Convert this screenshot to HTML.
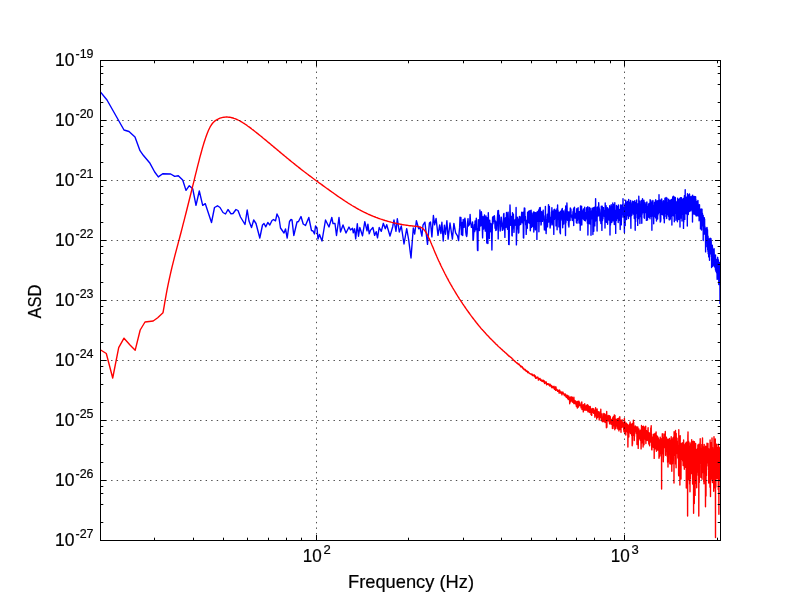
<!DOCTYPE html>
<html><head><meta charset="utf-8"><style>
html,body{margin:0;padding:0;background:#fff;width:800px;height:600px;overflow:hidden}
svg{display:block;will-change:transform}
text{font-family:"Liberation Sans",sans-serif;font-size:17.8px;fill:#000;stroke:#000;stroke-width:0.2px}
.s{font-size:13.1px}
</style></head><body>
<svg width="800" height="600" viewBox="0 0 800 600">
<rect width="800" height="600" fill="#fff"/>
<g clip-path="url(#c)"><path d="M100.0 91.5L107.0 100.0L124.0 130.0L129.0 131.5L135.0 137.0L140.0 150.7L143.3 155.3L150.0 163.3L154.7 172.0L158.3 176.9L162.7 173.7L170.7 174.0L174.7 176.4L178.3 175.7L182.7 180.0L186.0 190.4L189.3 185.7L192.7 188.7L196.0 205.3L199.3 191.0L202.7 205.3L205.3 203.7L211.5 222.5L214.5 207.5L217.5 205.8L220.0 207.5L223.0 212.5L225.5 214.0L228.0 209.5L231.0 213.8L233.0 213.5L236.0 209.5L238.0 210.5L240.5 217.0L245.0 224.5L247.2 210.0L249.0 221.0L251.5 227.5L253.7 220.0L256.0 223.5L259.8 238.0L262.5 225.0L264.0 223.5L265.8 226.8L267.8 222.5L269.8 225.0L272.0 220.5L273.5 219.5L275.5 220.8L277.0 214.0L279.0 218.0L280.5 228.0L284.0 233.0L285.5 229.0L287.2 238.0L289.5 221.5L291.0 219.5L292.0 219.8L293.8 235.5L297.0 222.0L298.5 221.5L301.0 216.5L303.2 224.0L305.5 225.5L308.8 217.5L311.5 230.5L313.0 231.0L314.5 234.0L315.5 226.0L317.0 228.0L318.0 239.0L319.5 234.5L322.0 241.0L325.5 220.0L329.0 227.0L331.8 217.5L333.0 223.5L335.0 223.5L336.5 235.5L339.0 217.5L340.5 232.0L343.0 225.0L346.0 233.0L349.0 227.0L350.5 230.0L352.5 228.3L353.3 232.9L354.6 228.8L355.7 238.8L357.3 223.8L358.5 236.2L359.8 227.5L362.5 235.8L364.8 221.7L367.0 230.8L367.9 224.2L369.2 233.8L370.4 230.4L372.9 227.5L374.6 235.4L376.2 231.7L377.5 237.9L379.2 227.5L381.3 231.3L383.3 223.3L385.3 228.7L386.7 224.7L390.0 236.0L392.7 226.7L394.0 220.0L396.0 231.3L397.3 218.7L399.3 232.0L401.3 226.0L404.0 244.0L406.7 228.7L408.7 240.0L411.0 258.0L413.3 228.0L414.7 234.0L416.4 220.7L418.7 228.7L420.0 227.5L421.9 236.1L423.0 225.2L424.9 222.2L427.5 244.4L429.4 223.0L430.5 221.9L431.9 236.9L433.4 215.5L434.6 224.9L436.1 218.5L438.0 235.4L439.7 224.9L440.9 233.5L441.9 222.2L443.2 241.0L444.4 225.2L445.5 234.2L446.9 220.8L448.1 239.1L450.0 223.0L452.4 239.1L453.9 223.4L455.6 232.8L457.5 235.8L458.6 240.6L459.1 232.9L459.6 227.9L460.0 217.3L460.5 225.1L460.9 217.5L461.4 234.7L461.8 229.8L462.3 222.4L462.7 235.6L463.2 219.5L463.6 221.5L464.1 227.4L464.5 220.5L464.9 218.1L465.4 221.8L465.8 232.1L466.2 235.2L466.7 236.5L467.1 233.7L467.5 223.9L468.0 218.6L468.4 226.0L468.8 224.7L469.3 225.0L469.7 222.8L470.1 214.5L470.5 221.7L470.9 223.4L471.4 227.4L471.8 225.5L472.2 227.6L472.6 221.9L473.0 240.0L473.4 239.3L473.9 230.6L474.3 224.8L474.7 231.6L475.1 221.0L475.5 229.9L475.9 226.1L476.3 218.2L476.7 228.2L477.1 231.4L477.5 250.3L477.9 250.6L478.3 219.6L478.7 222.7L479.1 226.7L479.5 230.5L479.9 210.0L480.3 225.3L480.7 226.0L481.1 225.1L481.4 211.8L481.8 215.8L482.2 224.8L482.6 237.9L483.0 216.6L483.4 223.6L483.7 229.1L484.1 217.7L484.5 215.0L484.9 223.8L485.3 231.1L485.6 226.5L486.0 216.0L486.4 225.4L486.8 243.0L487.1 217.6L487.5 228.6L487.9 243.5L488.3 212.7L488.6 222.7L489.0 222.4L489.4 238.6L489.7 220.2L490.1 232.0L490.4 223.3L490.8 231.4L491.2 229.4L491.5 223.9L491.9 250.0L492.3 227.6L492.6 217.2L493.0 223.8L493.3 216.5L493.7 216.8L494.0 221.6L494.4 215.8L494.7 219.6L495.1 228.3L495.4 220.9L495.8 230.5L496.1 224.0L496.5 229.9L496.8 221.7L497.2 221.7L497.5 216.3L497.9 210.6L498.2 238.9L498.5 210.4L498.9 223.5L499.2 214.9L499.6 217.7L499.9 226.9L500.2 231.0L500.6 225.3L500.9 226.1L501.3 217.2L501.6 220.6L501.9 222.8L502.3 230.3L502.6 229.0L502.9 227.8L503.2 228.1L503.6 214.4L503.9 213.5L504.2 229.9L504.6 224.8L504.9 237.4L505.2 218.7L505.5 217.8L505.9 227.4L506.2 221.2L506.5 212.4L506.8 219.1L507.1 224.1L507.5 229.2L507.8 216.1L508.1 212.1L508.4 221.9L508.7 244.4L509.1 244.5L509.4 224.1L509.7 220.8L510.0 205.0L510.3 215.2L510.6 225.3L510.9 222.5L511.3 218.0L511.6 216.4L511.9 235.4L512.2 235.9L512.5 212.8L512.8 217.0L513.1 228.1L513.4 214.3L513.7 225.5L514.0 232.4L514.3 224.7L514.6 225.3L514.9 220.4L515.2 219.4L515.5 220.0L515.8 225.5L516.1 207.5L516.4 244.9L516.7 232.7L517.0 225.5L517.3 217.2L517.6 218.9L517.9 228.9L518.2 219.3L518.5 233.0L518.8 232.6L519.1 220.7L519.4 216.5L519.7 225.0L520.0 220.7L520.3 217.0L520.6 217.5L520.8 224.2L521.1 218.7L521.4 217.6L521.7 212.3L522.0 214.3L522.3 222.8L522.6 215.2L522.9 213.1L523.1 212.2L523.4 237.7L523.7 238.0L524.0 217.8L524.3 208.0L524.6 219.3L524.8 208.3L525.1 220.6L525.4 216.5L525.7 225.0L526.0 223.5L526.2 234.4L526.5 227.0L526.8 220.1L527.1 223.8L527.3 228.2L527.6 212.2L527.9 216.1L528.2 222.7L528.4 217.3L528.7 211.1L529.0 221.7L529.3 212.0L529.5 223.2L529.8 210.6L530.1 218.0L530.3 230.8L530.6 227.2L530.9 215.1L531.1 210.1L531.4 217.8L531.7 227.2L531.9 213.3L532.2 219.9L532.5 226.2L532.7 217.3L533.0 222.1L533.3 216.9L533.5 212.0L533.8 232.0L534.1 221.5L534.3 212.1L534.6 219.3L534.8 212.4L535.1 218.3L535.4 229.9L535.6 214.5L535.9 212.8L536.1 227.0L536.4 218.7L536.7 213.4L536.9 239.4L537.2 211.7L537.4 218.9L537.7 213.2L537.9 221.4L538.2 217.0L538.4 211.5L538.7 210.0L538.9 231.8L539.2 218.0L539.5 208.0L539.7 220.7L540.0 221.4L540.2 207.4L540.5 211.5L540.7 214.9L541.0 225.1L541.2 224.4L541.4 217.4L541.7 211.6L541.9 219.0L542.2 219.5L542.4 221.4L542.7 212.5L542.9 216.2L543.2 210.1L543.4 218.3L543.7 215.7L543.9 220.7L544.2 225.8L544.4 229.9L544.6 220.3L544.9 222.0L545.1 230.0L545.4 206.5L545.6 223.9L545.8 220.5L546.1 233.6L546.3 228.9L546.6 221.7L546.8 219.3L547.0 218.4L547.3 214.3L547.5 226.9L547.7 219.7L548.0 216.3L548.2 217.8L548.5 204.6L548.7 222.1L548.9 208.4L549.2 220.0L549.4 206.5L549.6 214.7L549.9 220.5L550.1 228.0L550.3 226.0L550.6 224.9L550.8 221.9L551.0 217.2L551.3 219.2L551.5 211.9L551.7 212.7L551.9 207.8L552.2 224.9L552.4 210.9L552.6 214.5L552.9 215.5L553.1 213.3L553.3 223.3L553.5 210.9L553.8 234.4L554.0 209.6L554.2 217.9L554.4 219.6L554.7 209.3L554.9 218.5L555.1 210.4L555.3 212.1L555.6 217.0L555.8 210.4L556.0 225.9L556.2 223.8L556.5 217.3L556.7 217.0L556.9 208.8L557.1 229.8L557.3 217.8L557.6 205.0L557.8 217.9L558.0 210.1L558.2 216.1L558.4 219.4L558.7 215.0L558.9 226.9L559.1 214.5L559.3 212.3L559.5 219.1L559.7 218.5L560.0 232.4L560.2 220.4L560.4 233.7L560.6 211.3L560.8 220.0L561.0 220.1L561.2 217.1L561.5 217.7L561.7 210.6L561.9 209.2L562.1 212.9L562.3 208.4L562.5 220.6L562.7 227.8L562.9 217.0L563.2 220.2L563.4 218.0L563.6 210.9L563.8 224.0L564.0 214.2L564.2 212.9L564.4 219.1L564.6 217.7L564.8 213.6L565.0 218.8L565.2 209.6L565.5 235.5L565.7 205.9L565.9 223.0L566.1 220.3L566.3 212.2L566.5 215.7L566.7 218.4L566.9 203.0L567.1 207.9L567.3 218.1L567.5 220.3L567.7 218.5L567.9 220.4L568.1 211.8L568.3 212.5L568.5 225.2L568.7 215.2L568.9 227.0L569.1 221.9L569.3 212.1L569.5 220.5L569.7 214.1L569.9 211.2L570.1 220.5L570.3 208.0L570.5 212.3L570.7 211.9L570.9 208.9L571.1 213.9L571.3 215.9L571.5 217.1L571.7 215.5L571.9 217.3L572.1 218.6L572.3 220.5L572.5 215.2L572.7 216.8L572.9 212.5L573.1 211.2L573.3 217.7L573.5 208.9L573.7 225.6L573.9 207.9L574.1 216.6L574.3 215.7L574.5 207.2L574.7 216.6L574.9 215.3L575.1 218.1L575.2 214.5L575.4 213.5L575.6 214.1L575.8 218.2L576.0 214.4L576.2 215.3L576.4 222.6L576.6 211.7L576.8 208.6L577.0 223.2L577.2 213.5L577.4 220.4L577.5 219.9L577.7 209.4L577.9 217.9L578.1 207.8L578.3 218.5L578.5 217.9L578.7 213.6L578.9 214.5L579.0 223.1L579.2 211.8L579.4 216.9L579.6 216.1L579.8 211.9L580.0 211.6L580.2 230.3L580.4 214.0L580.5 206.0L580.7 225.2L580.9 213.1L581.1 215.1L581.3 221.3L581.5 221.1L581.6 206.3L581.8 224.9L582.0 210.0L582.2 214.5L582.4 212.7L582.6 212.2L582.7 213.6L582.9 212.3L583.1 216.4L583.3 218.9L583.5 208.9L583.7 216.0L583.8 219.4L584.0 216.5L584.2 213.7L584.4 220.4L584.6 208.0L584.7 207.3L584.9 209.0L585.1 218.0L585.3 214.6L585.4 220.9L585.6 219.5L585.8 212.8L586.0 217.0L586.2 214.9L586.3 215.8L586.5 218.7L586.7 207.8L586.9 213.0L587.0 211.2L587.2 209.8L587.4 223.3L587.6 216.7L587.8 206.8L587.9 235.0L588.1 221.0L588.3 224.0L588.5 218.5L588.6 223.7L588.8 211.8L589.0 214.9L589.1 220.1L589.3 207.4L589.5 219.9L589.7 213.7L589.8 218.3L590.0 224.0L590.2 208.3L590.4 217.5L590.5 211.4L590.7 212.2L590.9 214.7L591.0 235.3L591.2 211.8L591.4 214.2L591.6 218.5L591.7 210.8L591.9 210.6L592.1 208.1L592.2 213.4L592.4 219.0L592.6 216.5L592.7 208.5L592.9 234.5L593.1 216.4L593.3 208.3L593.4 211.8L593.6 207.8L593.8 231.2L593.9 210.5L594.1 207.5L594.3 217.9L594.4 222.2L594.6 207.3L594.8 225.9L594.9 218.0L595.1 218.5L595.3 221.3L595.4 216.2L595.6 198.8L595.8 212.2L595.9 217.6L596.1 212.0L596.3 220.5L596.4 218.3L596.6 215.0L596.7 213.9L596.9 219.4L597.1 231.1L597.2 207.2L597.4 213.6L597.6 210.1L597.7 207.0L597.9 210.3L598.1 209.2L598.2 216.0L598.4 215.3L598.5 209.8L598.7 202.8L598.9 208.1L599.0 215.6L599.2 207.8L599.3 213.6L599.5 209.3L599.7 212.1L599.8 215.2L600.0 220.7L600.1 213.9L600.3 219.4L600.5 220.5L600.6 215.4L600.8 214.8L600.9 223.6L601.1 214.3L601.3 206.3L601.4 207.3L601.6 215.5L601.7 213.4L601.9 230.4L602.1 209.3L602.2 206.1L602.4 210.9L602.5 220.5L602.7 212.0L602.8 207.5L603.0 218.7L603.2 208.2L603.3 209.9L603.5 207.6L603.6 211.3L603.8 213.6L603.9 216.0L604.1 215.2L604.2 210.5L604.4 214.7L604.6 216.8L604.7 211.6L604.9 218.3L605.0 228.0L605.2 203.0L605.3 213.3L605.5 217.6L605.6 211.4L605.8 214.1L605.9 213.3L606.1 205.8L606.2 210.8L606.4 222.2L606.6 215.8L606.7 219.6L606.9 211.9L607.0 208.7L607.2 214.0L607.3 218.7L607.5 207.6L607.6 224.2L607.8 218.2L607.9 211.3L608.1 214.9L608.2 220.1L608.4 210.5L608.5 210.0L608.7 217.2L608.8 209.0L609.0 214.8L609.1 210.0L609.3 216.3L609.4 220.3L609.6 208.8L609.7 205.7L609.9 218.6L610.0 235.0L610.2 212.7L610.3 206.9L610.5 225.0L610.6 209.8L610.8 218.8L610.9 213.4L611.1 216.7L611.2 204.8L611.4 219.3L611.5 211.8L611.6 206.3L611.8 222.5L611.9 213.5L612.1 208.9L612.2 209.3L612.4 214.7L612.5 212.6L612.7 214.4L612.8 202.9L613.0 220.9L613.1 217.0L613.3 214.3L613.4 209.3L613.5 217.8L613.7 204.7L613.8 212.7L614.0 205.9L614.1 215.3L614.3 224.6L614.4 214.4L614.5 217.7L614.7 212.2L614.8 202.7L615.0 223.6L615.1 211.7L615.3 218.0L615.4 210.3L615.6 217.0L615.7 233.4L615.8 211.0L616.0 214.5L616.1 215.1L616.3 212.2L616.4 220.6L616.5 205.4L616.7 218.8L616.8 206.6L617.0 217.9L617.1 212.0L617.3 206.6L617.4 206.8L617.5 216.8L617.7 211.7L617.8 218.8L618.0 212.7L618.1 214.5L618.2 222.6L618.4 205.0L618.5 218.8L618.7 213.9L618.8 210.1L618.9 210.1L619.1 209.5L619.2 220.4L619.3 211.8L619.5 210.2L619.6 209.7L619.8 217.3L619.9 211.1L620.0 218.0L620.2 229.6L620.3 218.4L620.5 205.0L620.6 214.1L620.7 210.1L620.9 223.7L621.0 217.5L621.1 208.0L621.3 224.9L621.4 219.5L621.5 205.2L621.7 217.5L621.8 217.5L622.0 205.0L622.1 215.1L622.2 211.7L622.4 211.4L622.5 212.5L622.6 210.4L622.8 206.7L622.9 214.1L623.0 198.8L623.2 214.5L623.3 209.1L623.4 217.0L623.6 210.7L623.7 214.5L623.8 207.4L624.0 209.7L624.1 213.3L624.2 221.3L624.4 232.6L624.5 207.4L624.7 221.8L624.8 223.9L624.9 204.0L625.0 205.0L625.2 225.6L625.3 204.3L625.4 205.3L625.6 211.7L625.7 200.2L625.8 202.7L626.0 203.5L626.1 213.8L626.2 214.2L626.4 211.6L626.5 202.8L626.6 219.5L626.8 210.6L626.9 211.3L627.0 206.2L627.2 209.8L627.3 201.6L627.4 215.5L627.6 209.1L627.7 211.9L627.8 211.7L627.9 208.3L628.1 202.1L628.2 201.0L628.3 212.5L628.5 218.6L628.6 202.7L628.7 199.4L628.8 207.4L629.0 209.2L629.1 209.1L629.2 216.0L629.4 208.2L629.5 207.4L629.6 209.8L629.7 207.9L629.9 210.8L630.0 202.2L630.1 209.5L630.3 213.0L630.4 216.4L630.5 200.5L630.6 200.6L630.8 222.0L630.9 228.2L631.0 202.6L631.2 207.1L631.3 209.9L631.4 215.6L631.5 210.1L631.7 215.6L631.8 207.2L631.9 204.1L632.0 204.9L632.2 205.9L632.3 210.5L632.4 212.3L632.5 201.3L632.7 211.8L632.8 206.5L632.9 205.6L633.0 208.8L633.2 214.1L633.3 208.8L633.4 201.6L633.5 206.8L633.7 202.5L633.8 202.5L633.9 201.6L634.0 206.2L634.2 207.4L634.3 218.5L634.4 213.3L634.5 201.0L634.7 212.2L634.8 207.5L634.9 200.8L635.0 203.8L635.2 230.2L635.3 210.0L635.4 206.4L635.5 202.5L635.6 221.5L635.8 207.0L635.9 213.6L636.0 217.8L636.1 207.0L636.3 209.2L636.4 211.3L636.5 208.8L636.6 213.5L636.7 200.0L636.9 209.8L637.0 203.4L637.1 210.8L637.2 205.3L637.4 210.6L637.5 212.5L637.6 203.9L637.7 225.4L637.8 214.1L638.0 208.2L638.1 203.8L638.2 209.8L638.3 204.6L638.4 218.7L638.6 209.0L638.7 215.0L638.8 196.2L638.9 201.7L639.0 206.4L639.2 206.3L639.3 203.2L639.4 205.9L639.5 208.3L639.6 201.3L639.8 213.4L639.9 223.5L640.0 213.4L640.1 207.4L640.2 214.9L640.4 208.1L640.5 209.8L640.6 210.0L640.7 206.9L640.8 216.6L640.9 214.2L641.1 201.3L641.2 207.2L641.3 200.4L641.4 206.0L641.5 207.7L641.6 210.4L641.8 223.2L641.9 204.7L642.0 214.5L642.1 214.0L642.2 213.2L642.4 212.5L642.5 198.8L642.6 206.2L642.7 201.2L642.8 202.2L642.9 203.7L643.1 203.4L643.2 203.5L643.3 206.6L643.4 201.2L643.5 204.8L643.6 209.4L643.7 213.1L643.9 200.1L644.0 206.4L644.1 217.5L644.2 210.5L644.3 210.8L644.4 218.3L644.6 211.7L644.7 202.4L644.8 206.2L644.9 209.6L645.0 211.8L645.1 209.6L645.2 206.8L645.4 212.6L645.5 208.6L645.6 211.5L645.7 212.6L645.8 206.0L645.9 206.1L646.0 204.2L646.2 208.3L646.3 202.6L646.4 220.4L646.5 207.0L646.6 214.3L646.7 206.2L646.8 216.1L646.9 202.0L647.1 208.7L647.2 206.7L647.3 218.5L647.4 209.0L647.5 220.1L647.6 206.5L647.7 212.7L647.8 207.0L648.0 210.2L648.1 212.1L648.2 211.9L648.3 217.0L648.4 208.0L648.5 207.3L648.6 204.0L648.7 205.8L648.8 213.0L649.0 217.2L649.1 215.2L649.2 214.1L649.3 210.6L649.4 203.1L649.5 203.3L649.6 211.2L649.7 209.5L649.8 205.7L650.0 218.7L650.1 199.7L650.2 212.0L650.3 213.3L650.4 200.1L650.5 209.9L650.6 216.6L650.7 209.9L650.8 206.5L650.9 200.6L651.1 209.2L651.2 205.4L651.3 214.1L651.4 203.8L651.5 203.4L651.6 204.5L651.7 209.1L651.8 209.3L651.9 230.2L652.0 205.7L652.1 205.9L652.3 202.2L652.4 212.6L652.5 201.3L652.6 216.0L652.7 205.5L652.8 205.4L652.9 200.5L653.0 201.5L653.1 204.9L653.2 214.4L653.3 207.5L653.4 207.4L653.5 205.5L653.7 223.8L653.8 208.5L653.9 207.7L654.0 210.4L654.1 206.2L654.2 213.2L654.3 207.0L654.4 209.6L654.5 212.7L654.6 202.5L654.7 205.4L654.8 205.1L654.9 216.2L655.0 214.2L655.2 211.8L655.3 211.8L655.4 200.6L655.5 217.9L655.6 202.2L655.7 199.8L655.8 210.2L655.9 202.5L656.0 207.5L656.1 210.0L656.2 213.9L656.3 211.9L656.4 209.4L656.5 221.1L656.6 201.7L656.7 211.8L656.8 211.1L656.9 206.4L657.0 202.0L657.2 200.7L657.3 214.7L657.4 208.7L657.5 207.5L657.6 219.0L657.7 204.7L657.8 203.3L657.9 215.2L658.0 207.6L658.1 212.4L658.2 200.9L658.3 205.1L658.4 213.8L658.5 205.4L658.6 208.9L658.7 212.7L658.8 206.6L658.9 204.0L659.0 194.8L659.1 209.5L659.2 206.8L659.3 210.5L659.4 205.7L659.5 204.8L659.6 206.1L659.7 200.0L659.8 212.0L659.9 201.9L660.0 209.1L660.2 219.4L660.3 222.1L660.4 217.2L660.5 202.5L660.6 200.8L660.7 221.2L660.8 219.2L660.9 205.5L661.0 203.0L661.1 213.2L661.2 208.2L661.3 199.3L661.4 209.7L661.5 204.3L661.6 213.5L661.7 198.9L661.8 206.5L661.9 214.3L662.0 207.9L662.1 211.3L662.2 209.2L662.3 209.7L662.4 208.7L662.5 209.1L662.6 214.7L662.7 207.7L662.8 205.1L662.9 207.9L663.0 203.1L663.1 208.5L663.2 201.1L663.3 209.9L663.4 207.3L663.5 200.8L663.6 208.0L663.7 213.6L663.8 218.8L663.9 211.7L664.0 207.9L664.1 205.3L664.2 213.6L664.3 222.7L664.4 218.4L664.5 203.3L664.6 218.9L664.7 209.1L664.8 204.4L664.9 198.9L665.0 198.1L665.1 213.4L665.2 205.7L665.3 211.4L665.4 206.0L665.5 204.9L665.6 211.7L665.7 206.6L665.8 210.4L665.9 201.2L666.0 209.0L666.1 198.1L666.1 197.4L666.2 216.6L666.3 207.6L666.4 204.4L666.5 201.7L666.6 204.4L666.7 218.6L666.8 210.2L666.9 204.6L667.0 203.9L667.1 198.3L667.2 205.0L667.3 207.1L667.4 204.6L667.5 209.1L667.6 204.4L667.7 214.5L667.8 206.8L667.9 207.0L668.0 205.5L668.1 212.3L668.2 202.8L668.3 205.9L668.4 209.0L668.5 216.2L668.6 206.5L668.7 199.3L668.8 215.3L668.9 212.2L669.0 215.8L669.0 204.8L669.1 219.7L669.2 208.2L669.3 206.5L669.4 204.4L669.5 207.7L669.6 208.9L669.7 202.8L669.8 219.8L669.9 210.4L670.0 200.4L670.1 205.0L670.2 201.6L670.3 219.0L670.4 211.5L670.5 207.5L670.6 215.0L670.7 200.1L670.8 210.7L670.9 210.5L670.9 204.3L671.0 205.7L671.1 210.5L671.2 213.6L671.3 208.7L671.4 199.5L671.5 216.2L671.6 207.8L671.7 202.0L671.8 211.0L671.9 225.1L672.0 202.0L672.1 201.6L672.2 203.1L672.3 207.0L672.4 200.7L672.5 206.7L672.5 198.9L672.6 201.8L672.7 197.0L672.8 210.2L672.9 201.4L673.0 202.8L673.1 199.3L673.2 200.2L673.3 215.8L673.4 196.3L673.5 208.8L673.6 203.0L673.7 206.0L673.7 214.7L673.8 198.3L673.9 207.1L674.0 196.6L674.1 202.9L674.2 204.4L674.3 221.7L674.4 207.4L674.5 205.8L674.6 204.7L674.7 203.8L674.8 199.0L674.9 208.5L674.9 208.3L675.0 198.8L675.1 208.7L675.2 203.4L675.3 197.4L675.4 202.5L675.5 209.1L675.6 213.8L675.7 208.3L675.8 202.6L675.9 208.5L675.9 220.2L676.0 203.4L676.1 219.1L676.2 202.3L676.3 208.1L676.4 214.2L676.5 204.2L676.6 215.6L676.7 205.3L676.8 208.7L676.9 204.4L676.9 211.4L677.0 206.3L677.1 201.1L677.2 206.7L677.3 201.3L677.4 221.7L677.5 212.9L677.6 198.1L677.7 211.1L677.8 206.1L677.8 205.0L677.9 206.4L678.0 219.7L678.1 204.6L678.2 199.1L678.3 200.1L678.4 208.1L678.5 203.6L678.6 200.7L678.6 207.1L678.7 204.3L678.8 204.5L678.9 208.2L679.0 216.5L679.1 219.4L679.2 213.7L679.3 204.4L679.4 206.9L679.4 205.5L679.5 200.6L679.6 198.6L679.7 200.7L679.8 205.0L679.9 206.7L680.0 227.0L680.1 206.8L680.2 202.1L680.2 198.0L680.3 213.0L680.4 198.0L680.5 205.1L680.6 213.2L680.7 211.2L680.8 197.7L680.9 207.4L680.9 202.9L681.0 204.6L681.1 217.9L681.2 218.0L681.3 206.9L681.4 197.6L681.5 209.0L681.6 212.7L681.6 211.1L681.7 207.3L681.8 208.1L681.9 199.4L682.0 221.0L682.1 200.9L682.2 214.3L682.2 212.4L682.3 214.0L682.4 200.0L682.5 207.0L682.6 213.5L682.7 208.1L682.8 199.5L682.9 210.9L682.9 210.2L683.0 208.6L683.1 199.0L683.2 198.4L683.3 211.7L683.4 207.3L683.5 201.7L683.5 228.4L683.6 205.8L683.7 205.8L683.8 221.9L683.9 206.8L684.0 199.2L684.1 200.7L684.1 198.5L684.2 209.4L684.3 210.2L684.4 195.7L684.5 207.0L684.6 207.1L684.7 208.6L684.7 200.2L684.8 219.4L684.9 200.9L685.0 206.4L685.1 202.6L685.2 189.6L685.3 212.0L685.3 197.7L685.4 202.8L685.5 204.1L685.6 202.4L685.7 207.0L685.8 211.5L685.8 201.5L685.9 210.0L686.0 208.5L686.1 213.8L686.2 199.4L686.3 208.5L686.3 204.8L686.4 198.4L686.5 206.5L686.6 197.1L686.7 208.3L686.8 208.1L686.9 206.5L686.9 204.7L687.0 196.7L687.1 208.4L687.2 202.3L687.3 226.0L687.4 213.4L687.4 202.9L687.5 193.7L687.6 200.4L687.7 210.9L687.8 205.5L687.9 200.8L687.9 196.3L688.0 197.5L688.1 198.8L688.2 206.2L688.3 214.6L688.4 195.0L688.4 199.1L688.5 209.5L688.6 200.2L688.7 205.1L688.8 206.9L688.8 203.7L688.9 207.3L689.0 208.7L689.1 197.0L689.2 203.6L689.3 211.6L689.3 208.1L689.4 207.9L689.5 194.0L689.6 195.0L689.7 200.1L689.8 202.1L689.8 197.5L689.9 207.1L690.0 204.0L690.1 201.0L690.2 208.6L690.2 198.7L690.3 210.3L690.4 203.6L690.5 200.2L690.6 201.1L690.7 197.5L690.7 199.2L690.8 211.0L690.9 196.7L691.0 203.7L691.1 201.5L691.1 199.8L691.2 206.0L691.3 205.7L691.4 209.7L691.5 208.0L691.5 205.4L691.6 200.0L691.7 203.9L691.8 204.3L691.9 206.4L691.9 199.9L692.0 202.3L692.1 195.9L692.2 207.7L692.3 201.8L692.3 203.8L692.4 202.5L692.5 222.0L692.6 201.8L692.7 195.1L692.8 202.4L692.8 198.5L692.9 207.6L693.0 198.2L693.1 214.0L693.2 213.5L693.2 204.7L693.3 203.2L693.4 200.5L693.5 208.7L693.5 196.8L693.6 200.0L693.7 209.1L693.8 204.0L693.9 197.9L693.9 206.3L694.0 208.7L694.1 197.9L694.2 202.0L694.3 207.0L694.3 214.0L694.4 202.4L694.5 202.8L694.6 206.6L694.7 200.7L694.7 196.5L694.8 203.8L694.9 213.6L695.0 203.6L695.1 212.7L695.1 206.2L695.2 206.8L695.3 204.5L695.4 209.3L695.4 214.8L695.5 208.1L695.6 196.8L695.7 205.5L695.8 209.7L695.8 205.7L695.9 199.6L696.0 212.9L696.1 201.3L696.2 216.1L696.2 216.0L696.3 211.8L696.4 202.7L696.5 203.1L696.5 208.4L696.6 205.3L696.7 210.1L696.8 208.3L696.9 201.8L696.9 209.8L697.0 203.2L697.1 208.5L697.2 205.0L697.2 215.1L697.3 210.2L697.4 215.8L697.5 211.2L697.6 213.5L697.6 212.6L697.7 205.8L697.8 208.0L697.9 206.4L697.9 200.4L698.0 203.0L698.1 209.2L698.2 211.1L698.2 204.3L698.3 210.4L698.4 210.8L698.5 206.9L698.6 207.5L698.6 212.5L698.7 212.8L698.8 216.6L698.9 208.1L698.9 208.9L699.0 209.3L699.1 220.7L699.2 208.7L699.2 213.7L699.3 213.1L699.4 210.2L699.5 215.1L699.5 204.8L699.6 217.1L699.7 212.4L699.8 219.1L699.9 211.1L699.9 212.3L700.0 213.9L700.1 212.3L700.2 209.5L700.2 215.6L700.3 210.4L700.4 217.1L700.5 216.1L700.5 228.9L700.6 215.2L700.7 217.7L700.8 215.4L700.8 209.5L700.9 211.0L701.0 221.3L701.1 209.0L701.1 226.1L701.2 222.1L701.3 225.4L701.4 220.6L701.4 220.7L701.5 215.7L701.6 230.1L701.7 209.9L701.7 209.7L701.8 212.1L701.9 210.8L702.0 209.3L702.0 215.3L702.1 222.2L702.2 222.1L702.3 225.8L702.3 225.0L702.4 213.1L702.5 215.5L702.6 216.4L702.6 219.2L702.7 218.0L702.8 223.7L702.9 225.6L702.9 218.8L703.0 216.0L703.1 223.0L703.2 215.5L703.2 240.6L703.3 220.8L703.4 226.8L703.5 230.1L703.5 228.9L703.6 232.8L703.7 219.7L703.7 221.2L703.8 229.3L703.9 219.7L704.0 223.0L704.0 221.1L704.1 219.8L704.2 227.7L704.3 234.1L704.3 217.7L704.4 225.5L704.5 228.2L704.6 222.0L704.6 219.1L704.7 230.0L704.8 226.5L704.9 226.5L704.9 231.2L705.0 232.9L705.1 227.6L705.1 229.1L705.2 231.8L705.3 234.1L705.4 230.3L705.4 228.3L705.5 237.0L705.6 251.9L705.7 235.9L705.7 231.9L705.8 235.7L705.9 235.7L705.9 232.2L706.0 233.1L706.1 238.4L706.2 228.2L706.2 246.8L706.3 237.8L706.4 238.9L706.5 228.9L706.5 230.5L706.6 227.9L706.7 237.1L706.7 238.7L706.8 236.9L706.9 234.4L707.0 227.5L707.0 228.2L707.1 227.7L707.2 233.7L707.2 240.1L707.3 232.2L707.4 234.1L707.5 240.4L707.5 229.8L707.6 236.7L707.7 250.0L707.7 235.0L707.8 237.7L707.9 250.3L708.0 236.6L708.0 251.7L708.1 236.4L708.2 253.7L708.3 239.8L708.3 238.5L708.4 244.3L708.5 241.6L708.5 250.8L708.6 245.8L708.7 239.6L708.7 256.9L708.8 239.3L708.9 242.3L709.0 240.5L709.0 247.2L709.1 245.6L709.2 240.2L709.2 248.5L709.3 244.2L709.4 250.0L709.5 247.9L709.5 260.3L709.6 238.7L709.7 252.2L709.7 242.2L709.8 239.8L709.9 249.2L710.0 243.3L710.0 251.3L710.1 253.9L710.2 238.1L710.2 243.0L710.3 241.9L710.4 243.9L710.4 252.8L710.5 249.1L710.6 244.9L710.7 240.4L710.7 253.7L710.8 251.9L710.9 240.4L710.9 242.0L711.0 238.6L711.1 247.9L711.1 251.8L711.2 241.0L711.3 252.0L711.4 256.8L711.4 250.3L711.5 254.0L711.6 251.8L711.6 267.6L711.7 258.8L711.8 254.4L711.8 251.8L711.9 260.7L712.0 247.4L712.1 251.7L712.1 248.7L712.2 249.8L712.3 256.7L712.3 245.3L712.4 251.2L712.5 246.9L712.5 260.8L712.6 266.1L712.7 255.3L712.7 258.0L712.8 266.4L712.9 259.8L713.0 254.5L713.0 263.7L713.1 256.3L713.2 251.4L713.2 261.1L713.3 261.6L713.4 257.1L713.4 257.7L713.5 253.0L713.6 263.8L713.6 249.2L713.7 249.8L713.8 265.1L713.8 260.0L713.9 260.1L714.0 253.1L714.0 254.7L714.1 248.7L714.2 253.3L714.3 257.7L714.3 265.6L714.4 255.5L714.5 263.5L714.5 264.7L714.6 262.6L714.7 266.9L714.7 261.5L714.8 264.6L714.9 266.6L714.9 255.4L715.0 267.2L715.1 264.7L715.1 258.0L715.2 259.5L715.3 256.3L715.3 263.9L715.4 267.6L715.5 270.0L715.5 255.0L715.6 261.2L715.7 264.2L715.7 269.9L715.8 266.2L715.9 266.2L715.9 270.1L716.0 271.4L716.1 263.6L716.2 267.5L716.2 271.1L716.3 272.0L716.4 269.0L716.4 259.6L716.5 259.8L716.6 272.6L716.6 271.2L716.7 267.1L716.8 266.9L716.8 259.8L716.9 273.7L717.0 259.3L717.0 265.9L717.1 277.4L717.2 279.4L717.2 260.8L717.3 260.1L717.4 268.3L717.4 268.6L717.5 266.7L717.6 257.5L717.6 267.5L717.7 257.4L717.8 259.9L717.8 263.9L717.9 278.6L718.0 268.5L718.0 275.6L718.1 269.2L718.2 269.6L718.2 264.0L718.3 274.9L718.4 268.5L718.4 259.7L718.5 264.4L718.6 267.8L718.6 266.1L718.7 268.1L718.8 284.5L718.8 270.5L718.9 265.3L718.9 268.6L719.0 266.2L719.1 270.6L719.1 271.9L719.2 272.0L719.3 281.2L719.3 272.6L719.4 280.4L719.5 267.0L719.5 273.5L719.6 265.6L719.7 263.6L719.7 266.5L719.8 262.5L719.9 263.1L719.9 275.5L720.0 304.0" stroke="#0000ff" stroke-width="1.39" fill="none" stroke-linejoin="round"/><path d="M99.0 349.5L100.7 350.0L106.3 353.5L112.7 378.0L118.7 347.7L124.0 338.2L130.0 345.0L135.2 350.2L140.2 330.0L145.0 322.0L153.2 321.0L157.7 317.7L163.0 312.7L164.0 307.1L165.0 301.2L166.0 295.6L167.0 290.2L167.1 289.7L168.0 285.2L169.0 280.4L170.0 275.8L171.0 271.4L171.1 271.0L172.0 267.2L173.0 263.1L174.0 259.1L175.0 255.2L176.0 251.4L177.0 247.6L178.0 243.9L178.7 241.2L179.0 240.1L180.0 236.3L181.0 232.5L182.0 228.6L182.4 227.1L183.0 224.7L184.0 220.8L185.0 216.9L186.0 213.0L187.0 209.0L188.0 205.0L189.0 201.0L189.5 199.0L190.0 197.0L191.0 193.0L192.0 188.9L192.8 185.7L193.0 184.9L194.0 180.8L195.0 176.7L196.0 172.7L196.1 172.3L197.0 168.7L198.0 164.7L199.0 160.8L199.4 159.2L200.0 156.9L201.0 153.2L202.0 149.6L202.5 147.8L203.0 146.1L204.0 142.8L205.0 139.7L205.6 137.9L206.0 136.7L207.0 134.0L208.0 131.5L208.6 130.1L209.0 129.2L210.0 127.2L211.0 125.5L211.6 124.6L212.0 124.0L213.0 122.8L214.0 121.8L214.4 121.4L215.0 120.9L216.0 120.2L217.0 119.6L217.3 119.4L218.0 119.1L219.0 118.6L220.0 118.2L221.0 117.9L222.0 117.6L222.7 117.4L223.0 117.4L224.0 117.2L225.0 117.1L225.4 117.1L226.0 117.0L227.0 117.0L228.0 117.1L229.0 117.2L230.0 117.3L230.5 117.4L231.0 117.5L232.0 117.8L233.0 118.0L234.0 118.4L235.0 118.7L235.5 118.9L236.0 119.1L237.0 119.5L237.9 120.0L238.0 120.0L239.0 120.5L240.0 121.0L240.3 121.2L241.0 121.6L242.0 122.2L242.6 122.5L243.0 122.8L244.0 123.4L244.9 124.0L245.0 124.1L246.0 124.7L247.0 125.4L247.1 125.5L248.0 126.2L249.0 126.9L249.4 127.2L250.0 127.6L251.0 128.4L251.5 128.8L252.0 129.2L253.0 129.9L253.7 130.5L254.0 130.7L255.0 131.5L255.8 132.1L256.0 132.3L257.0 133.1L257.9 133.8L258.0 133.9L259.0 134.7L259.9 135.4L260.0 135.5L261.0 136.3L261.9 137.1L262.0 137.1L263.0 138.0L263.9 138.7L264.0 138.8L265.0 139.6L265.9 140.3L266.0 140.4L267.0 141.2L267.8 141.9L268.0 142.1L269.0 142.9L269.7 143.5L270.0 143.7L271.0 144.6L271.6 145.1L272.0 145.4L273.0 146.2L273.4 146.6L274.0 147.1L275.0 147.9L275.2 148.1L276.0 148.7L277.0 149.6L278.0 150.4L278.8 151.1L279.0 151.3L280.0 152.1L280.6 152.6L281.0 152.9L282.0 153.8L282.3 154.0L283.0 154.6L284.0 155.4L285.0 156.3L285.7 156.8L286.0 157.1L287.0 157.9L287.3 158.2L288.0 158.7L289.0 159.6L290.0 160.4L290.6 160.9L291.0 161.2L292.0 162.0L292.2 162.2L293.0 162.8L293.8 163.5L294.0 163.6L295.0 164.4L295.4 164.8L296.0 165.2L296.9 166.0L297.0 166.0L298.0 166.8L298.4 167.1L299.0 167.6L300.0 168.4L301.0 169.2L301.5 169.6L302.0 170.0L302.9 170.7L303.0 170.7L304.0 171.5L304.4 171.8L305.0 172.3L305.9 173.0L306.0 173.0L307.0 173.8L307.3 174.0L308.0 174.5L308.7 175.1L309.0 175.3L310.0 176.1L310.1 176.1L311.0 176.8L311.5 177.2L312.0 177.5L312.9 178.2L313.0 178.3L314.0 179.0L314.2 179.2L315.0 179.8L315.6 180.2L316.0 180.5L316.9 181.2L317.0 181.2L318.0 182.0L318.2 182.1L319.0 182.7L319.5 183.1L320.0 183.4L320.8 184.0L321.0 184.1L322.0 184.9L322.1 184.9L323.0 185.6L323.4 185.9L324.0 186.3L324.6 186.8L325.0 187.0L325.9 187.7L326.0 187.8L327.0 188.5L327.1 188.6L328.0 189.2L328.3 189.4L329.0 189.9L329.5 190.3L330.0 190.6L330.7 191.1L331.0 191.3L331.9 192.0L332.0 192.1L333.0 192.8L333.1 192.8L334.0 193.5L334.3 193.7L335.0 194.2L335.5 194.5L336.0 194.9L336.6 195.3L337.0 195.6L337.7 196.1L338.0 196.3L338.9 196.9L339.0 197.0L340.0 197.7L341.0 198.3L341.1 198.4L342.0 199.0L342.2 199.1L343.0 199.7L343.3 199.9L344.0 200.3L344.4 200.6L345.0 201.0L345.5 201.3L346.0 201.7L346.5 202.0L347.0 202.3L347.6 202.7L348.0 203.0L348.6 203.3L349.0 203.6L349.7 204.0L350.0 204.2L350.7 204.7L351.0 204.8L351.7 205.3L352.0 205.5L352.8 205.9L353.0 206.1L353.8 206.5L354.0 206.7L354.8 207.1L355.0 207.2L355.8 207.7L356.0 207.8L356.8 208.3L357.0 208.4L357.7 208.8L358.0 209.0L358.7 209.3L359.0 209.5L359.7 209.9L360.0 210.0L360.6 210.4L361.0 210.6L361.6 210.9L362.0 211.1L362.5 211.4L363.0 211.6L363.5 211.9L364.0 212.1L364.4 212.3L365.0 212.6L365.3 212.7L366.0 213.1L366.3 213.2L367.0 213.6L367.2 213.6L368.0 214.0L368.1 214.1L369.0 214.5L369.9 214.9L370.0 214.9L370.8 215.3L371.0 215.3L371.7 215.6L372.0 215.8L372.5 216.0L373.0 216.2L373.4 216.3L374.0 216.6L374.3 216.7L375.0 217.0L375.1 217.0L376.0 217.4L376.8 217.7L377.0 217.7L377.7 218.0L378.0 218.1L378.5 218.3L379.0 218.5L379.4 218.6L380.0 218.8L380.2 218.9L381.0 219.2L381.8 219.4L382.0 219.5L382.6 219.7L383.0 219.8L383.5 220.0L384.0 220.2L384.3 220.2L385.0 220.5L385.1 220.5L385.9 220.7L386.0 220.8L386.6 220.9L387.0 221.1L387.4 221.2L388.0 221.3L388.2 221.4L389.0 221.6L389.8 221.8L390.0 221.9L390.5 222.0L391.0 222.1L391.3 222.2L392.0 222.4L392.8 222.6L393.0 222.6L393.6 222.8L394.0 222.9L394.3 223.0L395.0 223.1L395.8 223.3L396.0 223.3L396.5 223.4L397.0 223.5L397.2 223.6L398.0 223.8L398.7 223.9L399.0 224.0L399.4 224.0L400.0 224.2L400.1 224.2L400.8 224.3L401.0 224.3L401.5 224.4L402.0 224.5L402.2 224.6L402.9 224.7L403.0 224.7L403.6 224.8L404.0 224.9L404.3 224.9L405.0 225.0L405.7 225.1L406.0 225.2L406.4 225.2L407.0 225.3L407.1 225.3L407.7 225.4L408.0 225.4L408.4 225.5L409.0 225.6L409.1 225.6L409.7 225.7L410.0 225.7L410.4 225.8L411.0 225.8L411.1 225.8L411.7 225.9L412.0 225.9L412.4 226.0L413.0 226.0L413.7 226.1L414.0 226.1L414.3 226.2L414.9 226.2L415.0 226.2L415.6 226.3L416.0 226.3L416.2 226.3L416.8 226.4L417.0 226.4L417.5 226.5L418.0 226.5L418.1 226.6L418.7 226.7L419.0 226.7L419.3 226.8L420.0 227.0L420.6 227.2L421.0 227.4L421.2 227.5L421.8 227.8L422.0 227.9L422.4 228.2L423.0 228.7L423.6 229.2L424.0 229.7L424.2 229.9L424.8 230.6L425.0 230.9L425.4 231.5L426.0 232.4L426.5 233.3L427.0 234.2L427.1 234.3L427.7 235.5L428.0 236.1L428.3 236.7L428.9 238.0L429.0 238.2L429.4 239.1L430.0 240.4L430.6 241.8L431.0 242.8L431.1 243.0L431.7 244.5L432.0 245.2L432.3 245.9L432.8 247.1L433.0 247.6L433.4 248.6L433.9 249.8L434.0 250.0L434.5 251.2L435.0 252.4L435.6 253.8L436.0 254.7L436.1 254.9L436.7 256.3L437.0 257.0L437.2 257.4L437.8 258.8L438.0 259.2L438.3 259.9L438.8 261.0L439.0 261.4L439.4 262.3L439.9 263.3L440.0 263.6L440.4 264.4L441.0 265.7L441.5 266.7L442.0 267.8L442.5 268.8L443.0 269.8L443.6 271.0L444.0 271.8L444.1 272.0L444.6 273.0L445.0 273.8L445.1 274.0L445.6 274.9L446.0 275.7L446.1 275.9L446.6 276.8L447.0 277.6L447.1 277.8L447.6 278.7L448.0 279.4L448.1 279.6L448.6 280.6L449.0 281.3L449.1 281.5L449.6 282.4L450.0 283.1L450.1 283.3L450.6 284.2L451.0 284.9L451.1 285.0L451.6 285.9L452.0 286.6L452.5 287.5L453.0 288.3L453.5 289.2L454.0 290.0L454.4 290.7L454.9 291.5L455.0 291.7L455.4 292.3L455.8 293.0L456.0 293.3L456.3 293.8L456.8 294.6L457.0 294.9L457.3 295.4L457.7 296.1L458.0 296.5L458.2 296.9L458.6 297.5L459.0 298.1L459.1 298.3L459.6 299.1L460.0 299.7L460.5 300.4L460.9 301.1L461.0 301.2L461.4 301.8L461.8 302.4L462.0 302.7L462.3 303.2L462.7 303.8L463.0 304.2L463.2 304.5L463.6 305.1L464.0 305.7L464.1 305.9L464.5 306.4L464.9 307.0L465.0 307.2L465.4 307.7L465.8 308.3L466.0 308.6L466.2 308.9L466.7 309.6L467.0 310.0L467.1 310.2L467.5 310.7L468.0 311.5L468.4 312.0L468.8 312.6L469.0 312.8L469.3 313.3L469.7 313.8L470.0 314.2L470.1 314.4L470.5 314.9L470.9 315.4L471.0 315.6L471.4 316.1L471.8 316.6L472.0 316.9L472.2 317.2L472.6 317.7L473.0 318.2L473.4 318.8L473.9 319.4L474.0 319.5L474.3 319.9L474.7 320.4L475.0 320.8L475.1 321.0L475.5 321.5L475.9 322.0L476.0 322.1L476.3 322.5L476.7 323.0L477.0 323.4L477.1 323.5L477.5 324.0L477.9 324.5L478.0 324.6L478.3 325.0L478.7 325.5L479.0 325.8L479.1 326.0L479.5 326.4L479.9 326.9L480.0 327.1L480.3 327.4L480.7 327.9L481.0 328.2L481.1 328.4L481.4 328.7L481.8 329.2L482.2 329.5L482.6 330.0L483.0 330.4L483.4 330.9L483.7 331.3L484.1 331.7L484.5 332.1L484.9 332.6L485.3 333.0L485.6 333.4L486.0 333.8L486.4 334.2L486.8 334.7L487.1 335.0L487.5 335.4L487.9 335.8L488.3 336.2L488.6 336.6L489.0 337.0L489.4 337.4L489.7 337.7L490.1 338.2L490.4 338.5L490.8 338.9L491.2 339.2L491.5 339.6L491.9 340.0L492.3 340.3L492.6 340.6L493.0 341.1L493.3 341.4L493.7 341.8L494.0 342.2L494.4 342.4L494.7 342.8L495.1 343.1L495.4 343.5L495.8 343.9L496.1 344.2L496.5 344.6L496.8 344.7L497.2 345.1L497.5 345.6L497.9 345.8L498.2 346.2L498.5 346.5L498.9 346.8L499.2 347.2L499.6 347.5L499.9 347.7L500.2 348.1L500.6 348.3L500.9 348.7L501.3 349.0L501.6 349.4L501.9 349.5L502.3 350.0L502.6 350.2L502.9 350.6L503.2 350.8L503.6 351.2L503.9 351.3L504.2 351.5L504.6 352.0L504.9 352.5L505.2 352.5L505.5 352.8L505.9 353.1L506.2 353.4L506.5 353.6L506.8 353.9L507.1 354.3L507.5 354.8L507.8 354.9L508.1 355.1L508.4 355.7L508.7 355.7L509.1 356.3L509.4 356.1L509.7 356.3L510.0 356.7L510.3 357.2L510.6 357.3L510.9 357.4L511.3 357.7L511.6 358.0L511.9 358.3L512.2 358.9L512.5 359.0L512.8 359.2L513.1 359.6L513.4 360.2L513.7 360.1L514.0 360.5L514.3 360.6L514.6 360.8L514.9 361.5L515.2 361.6L515.5 361.7L515.8 362.2L516.1 362.3L516.4 362.7L516.7 363.0L517.0 362.8L517.3 363.3L517.6 363.7L517.9 363.4L518.2 364.2L518.5 364.4L518.8 364.6L519.1 364.0L519.4 364.9L519.7 365.1L520.0 365.7L520.3 365.6L520.6 365.8L520.8 366.8L521.1 366.5L521.4 366.3L521.7 366.5L522.0 367.3L522.3 366.8L522.6 368.1L522.9 367.7L523.1 368.1L523.4 368.9L523.7 368.4L524.0 369.5L524.3 369.5L524.6 369.5L524.8 370.1L525.1 369.4L525.4 370.3L525.7 370.8L526.0 370.4L526.2 370.8L526.5 371.4L526.8 371.4L527.1 371.0L527.3 371.3L527.6 372.5L527.9 371.6L528.2 371.8L528.4 371.9L528.7 372.8L529.0 373.1L529.3 373.0L529.5 373.4L529.8 373.4L530.1 373.8L530.3 373.8L530.6 374.1L530.9 374.0L531.1 374.1L531.4 374.5L531.7 374.8L531.9 373.9L532.2 374.4L532.5 374.8L532.7 375.6L533.0 375.0L533.3 375.6L533.5 375.3L533.8 375.7L534.1 374.7L534.3 376.1L534.6 376.8L534.8 375.8L535.1 375.9L535.4 376.0L535.6 378.3L535.9 377.5L536.1 377.6L536.4 378.2L536.7 377.3L536.9 377.2L537.2 377.1L537.4 377.3L537.7 378.0L537.9 377.2L538.2 378.1L538.4 380.1L538.7 378.7L538.9 379.1L539.2 378.6L539.5 379.2L539.7 379.3L540.0 378.4L540.2 379.9L540.5 380.4L540.7 379.5L541.0 379.4L541.2 380.1L541.4 380.1L541.7 380.6L541.9 381.3L542.2 381.0L542.4 381.4L542.7 380.1L542.9 381.2L543.2 380.2L543.4 381.4L543.7 382.1L543.9 381.5L544.2 381.6L544.4 381.0L544.6 383.5L544.9 382.5L545.1 382.0L545.4 383.0L545.6 382.5L545.8 383.0L546.1 381.9L546.3 382.1L546.6 384.8L546.8 384.5L547.0 384.1L547.3 383.7L547.5 383.9L547.7 384.3L548.0 383.6L548.2 383.6L548.5 384.3L548.7 384.7L548.9 384.6L549.2 385.5L549.4 384.2L549.6 384.4L549.9 386.0L550.1 384.2L550.3 385.6L550.6 385.0L550.8 385.9L551.0 386.2L551.3 385.5L551.5 387.1L551.7 386.7L551.9 387.7L552.2 386.3L552.4 387.0L552.6 387.3L552.9 387.7L553.1 386.8L553.3 387.2L553.5 387.8L553.8 388.2L554.0 386.3L554.2 386.7L554.4 389.3L554.7 387.2L554.9 388.0L555.1 388.4L555.3 388.4L555.6 390.3L555.8 386.8L556.0 387.3L556.2 389.3L556.5 389.5L556.7 389.5L556.9 390.4L557.1 389.4L557.3 390.2L557.6 391.4L557.8 390.9L558.0 391.3L558.2 391.4L558.4 391.2L558.7 390.3L558.9 391.6L559.1 393.1L559.3 389.9L559.5 392.2L559.7 390.2L560.0 391.6L560.2 391.4L560.4 393.1L560.6 392.2L560.8 392.9L561.0 392.7L561.2 392.2L561.5 393.3L561.7 392.0L561.9 394.9L562.1 394.5L562.3 392.9L562.5 393.0L562.7 392.4L562.9 392.0L563.2 393.4L563.4 393.2L563.6 393.8L563.8 394.2L564.0 394.5L564.2 394.5L564.4 395.5L564.6 395.1L564.8 394.0L565.0 394.6L565.2 393.9L565.5 396.1L565.7 396.1L565.9 395.2L566.1 397.0L566.3 397.2L566.5 395.3L566.7 396.6L566.9 395.2L567.1 396.4L567.3 397.1L567.5 398.3L567.7 395.4L567.9 397.2L568.1 398.5L568.3 399.5L568.5 399.3L568.7 398.2L568.9 396.1L569.1 399.3L569.3 397.6L569.5 397.8L569.7 403.7L569.9 400.4L570.1 397.4L570.3 401.9L570.5 397.2L570.7 399.0L570.9 401.7L571.1 396.6L571.3 399.4L571.5 397.2L571.7 399.3L571.9 400.9L572.1 398.2L572.3 397.2L572.5 398.2L572.7 402.2L572.9 399.3L573.1 402.4L573.3 401.6L573.5 398.7L573.7 403.1L573.9 397.2L574.1 403.8L574.3 403.4L574.5 400.1L574.7 401.6L574.9 401.8L575.1 403.3L575.2 400.6L575.4 401.6L575.6 402.2L575.8 403.6L576.0 405.0L576.2 402.3L576.4 406.5L576.6 403.8L576.8 401.5L577.0 401.7L577.2 403.6L577.4 408.1L577.5 402.1L577.7 401.8L577.9 403.3L578.1 401.2L578.3 401.7L578.5 407.0L578.7 404.1L578.9 404.9L579.0 401.3L579.2 402.1L579.4 404.1L579.6 403.3L579.8 402.8L580.0 405.6L580.2 405.1L580.4 405.0L580.5 405.7L580.7 405.6L580.9 404.6L581.1 407.9L581.3 407.7L581.5 404.0L581.6 402.7L581.8 401.9L582.0 409.5L582.2 405.1L582.4 407.7L582.6 407.0L582.7 406.6L582.9 405.0L583.1 405.2L583.3 411.9L583.5 407.7L583.7 404.6L583.8 406.5L584.0 410.3L584.2 409.0L584.4 408.7L584.6 405.2L584.7 403.8L584.9 409.8L585.1 406.3L585.3 407.9L585.4 406.2L585.6 408.3L585.8 410.2L586.0 409.1L586.2 409.5L586.3 405.2L586.5 410.0L586.7 406.9L586.9 410.3L587.0 410.0L587.2 408.2L587.4 410.1L587.6 404.7L587.8 406.2L587.9 411.7L588.1 407.9L588.3 405.8L588.5 411.7L588.6 410.3L588.8 406.3L589.0 411.6L589.1 408.0L589.3 410.0L589.5 409.4L589.7 412.5L589.8 410.2L590.0 411.2L590.2 406.4L590.4 408.4L590.5 410.1L590.7 410.5L590.9 409.0L591.0 414.6L591.2 413.1L591.4 413.2L591.6 412.9L591.7 415.4L591.9 409.9L592.1 412.4L592.2 408.4L592.4 411.7L592.6 412.1L592.7 410.5L592.9 410.6L593.1 412.4L593.3 410.4L593.4 408.7L593.6 413.2L593.8 408.9L593.9 412.6L594.1 410.1L594.3 412.4L594.4 413.4L594.6 411.5L594.8 415.6L594.9 417.2L595.1 412.7L595.3 413.1L595.4 416.1L595.6 407.8L595.8 412.0L595.9 415.2L596.1 411.6L596.3 411.4L596.4 414.3L596.6 413.4L596.7 419.0L596.9 413.0L597.1 409.0L597.2 410.8L597.4 411.2L597.6 415.6L597.7 417.2L597.9 411.8L598.1 413.4L598.2 414.8L598.4 414.6L598.5 411.7L598.7 412.8L598.9 415.7L599.0 415.0L599.2 420.0L599.3 418.4L599.5 413.4L599.7 416.3L599.8 417.7L600.0 414.3L600.1 411.8L600.3 417.3L600.5 416.4L600.6 416.3L600.8 409.3L600.9 412.7L601.1 414.9L601.3 419.8L601.4 413.7L601.6 414.3L601.7 416.6L601.9 418.0L602.1 417.5L602.2 421.6L602.4 417.5L602.5 417.8L602.7 419.1L602.8 417.4L603.0 421.7L603.2 413.5L603.3 417.3L603.5 420.1L603.6 414.7L603.8 415.2L603.9 418.6L604.1 421.3L604.2 417.5L604.4 416.0L604.6 415.5L604.7 413.8L604.9 414.9L605.0 422.5L605.2 417.3L605.3 422.3L605.5 415.0L605.6 416.7L605.8 415.1L605.9 417.2L606.1 418.0L606.2 419.9L606.4 427.7L606.6 418.5L606.7 411.4L606.9 427.2L607.0 419.2L607.2 417.5L607.3 417.4L607.5 420.7L607.6 418.9L607.8 417.8L607.9 420.5L608.1 417.0L608.2 415.5L608.4 416.7L608.5 418.3L608.7 419.9L608.8 417.1L609.0 420.4L609.1 421.6L609.3 415.7L609.4 420.4L609.6 423.9L609.7 417.0L609.9 417.7L610.0 416.2L610.2 420.3L610.3 416.6L610.5 420.6L610.6 423.1L610.8 420.8L610.9 419.5L611.1 424.2L611.2 420.5L611.4 419.7L611.5 421.6L611.6 419.7L611.8 420.7L611.9 423.0L612.1 419.8L612.2 419.0L612.4 428.6L612.5 423.3L612.7 417.7L612.8 419.3L613.0 428.4L613.1 420.5L613.3 416.7L613.4 418.6L613.5 418.8L613.7 421.9L613.8 421.3L614.0 425.7L614.1 421.6L614.3 414.9L614.4 421.9L614.5 425.2L614.7 420.2L614.8 429.7L615.0 415.4L615.1 420.1L615.3 423.1L615.4 423.5L615.6 423.0L615.7 422.0L615.8 422.2L616.0 428.3L616.1 419.3L616.3 423.7L616.4 426.3L616.5 419.5L616.7 420.3L616.8 424.4L617.0 425.3L617.1 419.5L617.3 424.5L617.4 422.0L617.5 418.7L617.7 427.4L617.8 429.0L618.0 426.3L618.1 425.5L618.2 423.0L618.4 420.4L618.5 425.2L618.7 418.3L618.8 422.9L618.9 430.9L619.1 424.0L619.2 421.5L619.3 420.1L619.5 426.3L619.6 424.4L619.8 416.7L619.9 423.7L620.0 427.8L620.2 429.3L620.3 426.0L620.5 423.1L620.6 428.7L620.7 420.1L620.9 427.0L621.0 432.2L621.1 422.5L621.3 424.3L621.4 425.5L621.5 420.7L621.7 427.2L621.8 422.6L622.0 427.1L622.1 419.7L622.2 425.1L622.4 425.0L622.5 423.3L622.6 425.7L622.8 423.9L622.9 426.4L623.0 422.8L623.2 425.4L623.3 427.8L623.4 423.7L623.6 423.9L623.7 429.9L623.8 426.9L624.0 431.8L624.1 425.5L624.2 422.2L624.4 418.4L624.5 425.2L624.7 422.5L624.8 421.4L624.9 423.9L625.0 433.3L625.2 428.4L625.3 424.8L625.4 425.6L625.6 425.9L625.7 429.7L625.8 435.0L626.0 425.4L626.1 423.0L626.2 428.6L626.4 425.1L626.5 429.4L626.6 427.9L626.8 429.6L626.9 423.9L627.0 431.2L627.2 426.5L627.3 424.2L627.4 427.8L627.6 433.0L627.7 426.2L627.8 428.6L627.9 447.0L628.1 427.8L628.2 429.2L628.3 425.8L628.5 430.0L628.6 427.2L628.7 426.0L628.8 437.1L629.0 424.8L629.1 427.0L629.2 431.8L629.4 428.1L629.5 424.8L629.6 431.2L629.7 431.1L629.9 424.0L630.0 423.2L630.1 422.0L630.3 427.7L630.4 433.2L630.5 433.3L630.6 430.6L630.8 433.6L630.9 427.6L631.0 424.6L631.2 433.6L631.3 424.0L631.4 433.6L631.5 432.5L631.7 435.5L631.8 427.0L631.9 429.7L632.0 429.8L632.2 445.7L632.3 432.5L632.4 428.4L632.5 444.3L632.7 423.2L632.8 428.3L632.9 426.2L633.0 430.7L633.2 426.4L633.3 425.6L633.4 420.1L633.5 435.2L633.7 422.4L633.8 435.1L633.9 430.0L634.0 431.8L634.2 431.3L634.3 440.5L634.4 431.9L634.5 436.4L634.7 431.9L634.8 429.8L634.9 430.8L635.0 431.6L635.2 425.9L635.3 429.5L635.4 428.8L635.5 426.2L635.6 430.5L635.8 431.0L635.9 428.5L636.0 431.6L636.1 426.7L636.3 433.6L636.4 432.4L636.5 431.6L636.6 433.0L636.7 431.9L636.9 433.9L637.0 444.5L637.1 427.1L637.2 434.1L637.4 429.0L637.5 435.2L637.6 429.6L637.7 438.6L637.8 426.9L638.0 432.5L638.1 434.7L638.2 448.4L638.3 444.7L638.4 435.2L638.6 435.6L638.7 435.1L638.8 435.4L638.9 429.0L639.0 434.8L639.2 435.2L639.3 436.9L639.4 438.8L639.5 431.9L639.6 434.6L639.8 432.9L639.9 432.4L640.0 433.6L640.1 430.6L640.2 430.7L640.4 440.4L640.5 437.1L640.6 430.1L640.7 433.6L640.8 431.3L640.9 437.9L641.1 448.9L641.2 442.6L641.3 437.6L641.4 436.5L641.5 425.4L641.6 431.3L641.8 430.5L641.9 430.7L642.0 442.8L642.1 432.7L642.2 435.0L642.4 426.8L642.5 438.1L642.6 442.1L642.7 434.4L642.8 435.6L642.9 434.4L643.1 447.0L643.2 434.3L643.3 438.3L643.4 437.2L643.5 426.2L643.6 437.8L643.7 433.1L643.9 440.1L644.0 444.7L644.1 431.5L644.2 434.3L644.3 429.8L644.4 430.9L644.6 434.4L644.7 439.1L644.8 427.8L644.9 435.3L645.0 427.0L645.1 430.9L645.2 431.5L645.4 432.7L645.5 433.5L645.6 436.6L645.7 426.1L645.8 439.9L645.9 443.6L646.0 433.6L646.2 438.8L646.3 431.2L646.4 436.6L646.5 430.6L646.6 434.3L646.7 437.4L646.8 435.5L646.9 433.1L647.1 439.3L647.2 440.5L647.3 436.9L647.4 435.0L647.5 431.2L647.6 434.6L647.7 432.6L647.8 437.5L648.0 428.9L648.1 427.8L648.2 440.1L648.3 435.5L648.4 435.8L648.5 435.5L648.6 437.6L648.7 440.7L648.8 444.1L649.0 439.8L649.1 436.1L649.2 432.7L649.3 434.6L649.4 439.2L649.5 440.9L649.6 445.8L649.7 434.2L649.8 436.9L650.0 434.9L650.1 433.7L650.2 435.3L650.3 437.6L650.4 437.9L650.5 442.0L650.6 441.1L650.7 436.1L650.8 428.0L650.9 440.4L651.1 437.1L651.2 425.8L651.3 438.0L651.4 440.3L651.5 437.8L651.6 439.9L651.7 449.4L651.8 434.2L651.9 449.9L652.0 442.1L652.1 441.2L652.3 437.0L652.4 440.4L652.5 442.0L652.6 443.6L652.7 437.8L652.8 441.6L652.9 441.5L653.0 443.7L653.1 444.0L653.2 438.6L653.3 447.2L653.4 439.0L653.5 439.8L653.7 434.2L653.8 444.5L653.9 446.4L654.0 440.4L654.1 440.0L654.2 458.4L654.3 434.8L654.4 439.6L654.5 439.6L654.6 445.8L654.7 438.4L654.8 442.7L654.9 433.4L655.0 437.4L655.2 434.3L655.3 448.9L655.4 443.5L655.5 443.7L655.6 444.8L655.7 433.3L655.8 439.3L655.9 448.6L656.0 443.0L656.1 431.9L656.2 442.3L656.3 438.5L656.4 451.2L656.5 444.0L656.6 442.6L656.7 443.3L656.8 442.0L656.9 440.0L657.0 436.0L657.2 450.2L657.3 441.7L657.4 437.5L657.5 438.1L657.6 436.4L657.7 441.9L657.8 440.1L657.9 447.7L658.0 437.6L658.1 449.5L658.2 442.6L658.3 442.9L658.4 438.0L658.5 442.1L658.6 448.7L658.7 439.4L658.8 450.9L658.9 445.9L659.0 458.3L659.1 441.8L659.2 442.1L659.3 456.9L659.4 442.7L659.5 440.3L659.6 447.2L659.7 456.6L659.8 443.9L659.9 440.0L660.0 455.6L660.2 437.3L660.3 444.1L660.4 438.1L660.5 451.4L660.6 438.8L660.7 442.1L660.8 439.0L660.9 443.6L661.0 438.6L661.1 445.3L661.2 445.9L661.3 451.6L661.4 453.8L661.5 441.2L661.6 489.0L661.7 443.4L661.8 446.0L661.9 442.5L662.0 441.2L662.1 446.9L662.2 440.2L662.3 433.7L662.4 450.7L662.5 446.1L662.6 440.7L662.7 450.0L662.8 437.5L662.9 449.6L663.0 453.9L663.1 451.9L663.2 438.9L663.3 461.7L663.4 444.2L663.5 457.2L663.6 439.0L663.7 441.5L663.8 440.9L663.9 433.9L664.0 445.4L664.1 437.6L664.2 437.7L664.3 436.3L664.4 447.5L664.5 437.9L664.6 446.7L664.7 436.6L664.8 437.5L664.9 444.3L665.0 439.5L665.1 440.6L665.2 443.0L665.3 431.4L665.4 449.9L665.5 455.3L665.6 454.6L665.7 445.8L665.8 444.8L665.9 437.4L666.0 438.2L666.1 443.2L666.1 443.4L666.2 451.2L666.3 438.7L666.4 437.1L666.5 445.4L666.6 439.7L666.7 449.2L666.8 445.0L666.9 443.6L667.0 438.9L667.1 456.2L667.2 444.5L667.3 439.6L667.4 442.6L667.5 441.1L667.6 462.2L667.7 451.5L667.8 447.1L667.9 451.1L668.0 467.0L668.1 439.3L668.2 443.8L668.3 462.2L668.4 449.4L668.5 444.7L668.6 440.2L668.7 441.3L668.8 449.3L668.9 450.3L669.0 444.7L669.0 439.6L669.1 448.4L669.2 449.3L669.3 442.3L669.4 442.1L669.5 438.5L669.6 443.5L669.7 440.5L669.8 463.8L669.9 458.7L670.0 460.0L670.1 451.2L670.2 440.3L670.3 448.1L670.4 442.9L670.5 452.4L670.6 441.0L670.7 440.7L670.8 464.1L670.9 455.8L670.9 452.4L671.0 441.4L671.1 442.3L671.2 436.8L671.3 461.9L671.4 446.3L671.5 448.0L671.6 448.5L671.7 448.6L671.8 471.2L671.9 444.8L672.0 451.0L672.1 458.2L672.2 439.2L672.3 454.1L672.4 445.6L672.5 454.3L672.5 463.8L672.6 448.3L672.7 446.3L672.8 457.4L672.9 445.0L673.0 437.7L673.1 440.8L673.2 450.3L673.3 455.4L673.4 441.4L673.5 460.6L673.6 457.1L673.7 437.0L673.7 445.9L673.8 444.3L673.9 448.4L674.0 483.0L674.1 431.7L674.2 449.5L674.3 442.9L674.4 450.7L674.5 445.3L674.6 439.9L674.7 440.2L674.8 445.1L674.9 444.8L674.9 432.1L675.0 441.5L675.1 439.2L675.2 444.3L675.3 448.0L675.4 455.8L675.5 430.5L675.6 464.0L675.7 452.3L675.8 455.7L675.9 442.4L675.9 463.3L676.0 445.1L676.1 467.7L676.2 433.5L676.3 453.9L676.4 447.4L676.5 437.7L676.6 449.5L676.7 447.3L676.8 447.9L676.9 445.1L676.9 453.4L677.0 438.1L677.1 440.7L677.2 446.5L677.3 441.1L677.4 450.1L677.5 452.8L677.6 448.4L677.7 445.9L677.8 457.8L677.8 452.1L677.9 446.1L678.0 457.5L678.1 447.1L678.2 458.7L678.3 447.7L678.4 448.7L678.5 446.6L678.6 447.5L678.6 473.9L678.7 475.7L678.8 429.7L678.9 458.7L679.0 458.4L679.1 466.2L679.2 439.7L679.3 444.1L679.4 443.5L679.4 460.6L679.5 442.8L679.6 451.2L679.7 441.5L679.8 450.8L679.9 485.1L680.0 450.8L680.1 451.1L680.2 435.7L680.2 458.1L680.3 450.6L680.4 453.3L680.5 459.1L680.6 449.8L680.7 450.2L680.8 447.7L680.9 454.7L680.9 453.2L681.0 479.0L681.1 459.7L681.2 453.2L681.3 451.1L681.4 443.8L681.5 446.1L681.6 447.1L681.6 444.2L681.7 459.3L681.8 443.3L681.9 454.8L682.0 451.5L682.1 455.4L682.2 445.0L682.2 456.0L682.3 445.8L682.4 452.4L682.5 455.3L682.6 446.4L682.7 460.9L682.8 442.8L682.9 457.7L682.9 456.9L683.0 443.4L683.1 465.5L683.2 445.2L683.3 447.2L683.4 451.7L683.5 449.5L683.5 458.9L683.6 439.9L683.7 444.4L683.8 447.0L683.9 446.1L684.0 445.1L684.1 448.7L684.1 461.1L684.2 464.0L684.3 469.2L684.4 455.5L684.5 445.0L684.6 462.3L684.7 456.6L684.7 447.9L684.8 454.4L684.9 455.7L685.0 465.8L685.1 450.0L685.2 457.1L685.3 457.7L685.3 457.7L685.4 449.4L685.5 443.5L685.6 467.4L685.7 449.5L685.8 466.6L685.8 450.5L685.9 456.8L686.0 453.4L686.1 449.1L686.2 449.4L686.3 488.1L686.3 442.3L686.4 447.1L686.5 448.3L686.6 475.3L686.7 449.3L686.8 458.5L686.9 459.2L686.9 451.5L687.0 476.7L687.1 445.2L687.2 441.9L687.3 447.5L687.4 443.5L687.4 478.9L687.5 451.8L687.6 516.0L687.7 457.1L687.8 447.1L687.9 434.6L687.9 466.4L688.0 432.0L688.1 453.6L688.2 452.5L688.3 452.3L688.4 448.0L688.4 461.1L688.5 457.5L688.6 441.1L688.7 454.2L688.8 453.9L688.8 479.8L688.9 449.5L689.0 447.0L689.1 450.8L689.2 442.7L689.3 475.3L689.3 445.4L689.4 462.5L689.5 465.1L689.6 484.0L689.7 446.9L689.8 454.7L689.8 459.4L689.9 451.4L690.0 491.8L690.1 462.0L690.2 449.9L690.2 455.1L690.3 454.4L690.4 478.8L690.5 453.2L690.6 453.7L690.7 453.4L690.7 443.6L690.8 454.7L690.9 462.0L691.0 452.2L691.1 459.5L691.1 442.2L691.2 449.2L691.3 452.9L691.4 451.3L691.5 473.5L691.5 456.2L691.6 455.6L691.7 439.8L691.8 444.6L691.9 442.5L691.9 451.8L692.0 455.1L692.1 447.6L692.2 464.8L692.3 464.7L692.3 441.4L692.4 452.1L692.5 472.5L692.6 484.0L692.7 457.9L692.8 459.8L692.8 463.9L692.9 453.9L693.0 465.5L693.1 470.4L693.2 442.1L693.2 452.0L693.3 467.3L693.4 441.1L693.5 451.7L693.5 453.6L693.6 513.3L693.7 444.8L693.8 454.9L693.9 444.8L693.9 443.3L694.0 467.9L694.1 442.3L694.2 449.1L694.3 455.5L694.3 503.5L694.4 441.6L694.5 450.3L694.6 448.9L694.7 462.8L694.7 446.6L694.8 451.2L694.9 444.3L695.0 468.3L695.1 495.4L695.1 459.3L695.2 459.1L695.3 449.5L695.4 450.4L695.4 450.5L695.5 445.1L695.6 443.4L695.7 455.7L695.8 481.4L695.8 455.3L695.9 458.9L696.0 452.8L696.1 456.5L696.2 457.3L696.2 483.2L696.3 452.3L696.4 451.8L696.5 454.2L696.5 457.6L696.6 449.7L696.7 487.8L696.8 458.9L696.9 452.2L696.9 462.4L697.0 456.0L697.1 449.1L697.2 458.4L697.2 470.4L697.3 462.9L697.4 454.1L697.5 472.1L697.6 455.7L697.6 460.5L697.7 456.0L697.8 450.4L697.9 445.0L697.9 455.7L698.0 455.0L698.1 451.2L698.2 468.1L698.2 456.7L698.3 475.3L698.4 446.7L698.5 452.6L698.6 464.3L698.6 464.0L698.7 451.1L698.8 516.0L698.9 482.9L698.9 444.3L699.0 454.9L699.1 454.0L699.2 460.2L699.2 468.0L699.3 482.4L699.4 457.0L699.5 459.0L699.5 461.6L699.6 451.2L699.7 452.9L699.8 462.8L699.9 463.8L699.9 447.9L700.0 456.8L700.1 442.1L700.2 459.4L700.2 438.8L700.3 452.8L700.4 462.2L700.5 450.7L700.5 455.6L700.6 464.1L700.7 457.7L700.8 458.3L700.8 477.3L700.9 448.1L701.0 461.6L701.1 458.7L701.1 450.1L701.2 459.1L701.3 470.3L701.4 450.4L701.4 462.7L701.5 455.2L701.6 457.5L701.7 460.9L701.7 470.7L701.8 444.5L701.9 474.3L702.0 450.0L702.0 479.2L702.1 454.3L702.2 456.3L702.3 449.6L702.3 456.3L702.4 441.5L702.5 438.0L702.6 456.0L702.6 451.7L702.7 461.1L702.8 472.5L702.9 459.4L702.9 450.6L703.0 452.7L703.1 461.1L703.2 448.4L703.2 472.2L703.3 456.6L703.4 454.8L703.5 471.4L703.5 446.7L703.6 455.3L703.7 454.9L703.7 454.8L703.8 482.1L703.9 459.2L704.0 483.7L704.0 457.1L704.1 448.9L704.2 444.4L704.3 458.7L704.3 446.7L704.4 457.9L704.5 473.2L704.6 451.2L704.6 456.7L704.7 466.8L704.8 449.3L704.9 468.5L704.9 459.5L705.0 452.0L705.1 448.1L705.1 467.3L705.2 453.3L705.3 457.4L705.4 453.4L705.4 462.5L705.5 506.8L705.6 464.2L705.7 446.3L705.7 471.9L705.8 462.4L705.9 451.7L705.9 461.6L706.0 496.0L706.1 454.9L706.2 459.8L706.2 472.9L706.3 450.7L706.4 473.7L706.5 475.4L706.5 459.9L706.6 458.0L706.7 459.1L706.7 461.6L706.8 449.2L706.9 454.0L707.0 457.9L707.0 443.3L707.1 446.9L707.2 451.7L707.2 451.8L707.3 451.8L707.4 449.1L707.5 454.9L707.5 460.3L707.6 454.3L707.7 454.7L707.7 462.7L707.8 445.7L707.9 451.2L708.0 443.4L708.0 459.5L708.1 465.9L708.2 451.8L708.3 458.3L708.3 449.5L708.4 465.5L708.5 466.4L708.5 469.7L708.6 469.6L708.7 455.5L708.7 483.0L708.8 448.9L708.9 449.1L709.0 474.6L709.0 457.3L709.1 465.7L709.2 462.0L709.2 453.5L709.3 453.1L709.4 449.9L709.5 465.8L709.5 453.9L709.6 465.9L709.7 463.6L709.7 475.2L709.8 474.5L709.9 460.9L710.0 487.2L710.0 457.9L710.1 440.0L710.2 476.5L710.2 483.6L710.3 456.7L710.4 474.3L710.4 461.4L710.5 496.5L710.6 456.2L710.7 442.5L710.7 457.8L710.8 456.3L710.9 462.8L710.9 462.5L711.0 468.6L711.1 469.6L711.1 449.9L711.2 461.7L711.3 452.5L711.4 452.8L711.4 442.7L711.5 462.2L711.6 453.3L711.6 470.1L711.7 448.9L711.8 463.3L711.8 460.7L711.9 479.2L712.0 438.0L712.1 445.4L712.1 444.9L712.2 475.9L712.3 448.0L712.3 468.9L712.4 479.0L712.5 482.6L712.5 447.4L712.6 463.7L712.7 462.3L712.7 456.6L712.8 457.5L712.9 455.8L713.0 455.5L713.0 465.1L713.1 449.2L713.2 453.2L713.2 455.2L713.3 455.5L713.4 452.2L713.4 457.9L713.5 455.6L713.6 463.1L713.6 462.6L713.7 491.3L713.8 479.9L713.8 472.7L713.9 458.5L714.0 436.7L714.0 466.6L714.1 464.6L714.2 487.9L714.3 463.5L714.3 465.3L714.4 454.9L714.5 467.2L714.5 454.9L714.6 452.1L714.7 459.6L714.7 477.2L714.8 472.5L714.9 465.2L714.9 452.9L715.0 462.0L715.1 474.1L715.1 457.3L715.2 477.7L715.3 453.2L715.3 438.9L715.4 469.6L715.5 537.5L715.5 480.1L715.6 461.6L715.7 456.8L715.7 450.6L715.8 457.8L715.9 448.1L715.9 487.0L716.0 465.4L716.1 459.7L716.2 461.9L716.2 462.0L716.3 445.8L716.4 468.4L716.4 451.9L716.5 457.9L716.6 444.3L716.6 464.8L716.7 454.4L716.8 455.6L716.8 469.1L716.9 455.2L717.0 448.3L717.0 447.2L717.1 463.6L717.2 464.5L717.2 450.1L717.3 478.4L717.4 476.1L717.4 456.0L717.5 450.5L717.6 448.8L717.6 449.1L717.7 459.7L717.8 464.7L717.8 468.2L717.9 462.5L718.0 457.9L718.0 461.5L718.1 451.5L718.2 472.6L718.2 469.0L718.3 489.5L718.4 444.2L718.4 464.5L718.5 451.8L718.6 446.5L718.6 458.4L718.7 465.0L718.8 465.8L718.8 463.5L718.9 514.2L718.9 468.2L719.0 493.0L719.1 458.7L719.1 452.6L719.2 453.8L719.3 447.4L719.3 461.3L719.4 460.4L719.5 452.7L719.5 463.4L719.6 480.7L719.7 453.7L719.7 461.4L719.8 449.9L719.9 472.8L719.9 457.8L720.0 464.7" stroke="#ff0000" stroke-width="1.39" fill="none" stroke-linejoin="round"/></g>
<path d="M316.5 540V60M624.5 540V60M100 120.5H720M100 180.5H720M100 240.5H720M100 300.5H720M100 360.5H720M100 420.5H720M100 480.5H720" stroke="#000" stroke-width="0.7" stroke-dasharray="1.39 4.17" fill="none"/>
<clipPath id="c"><rect x="100" y="60" width="620" height="480"/></clipPath>
<path d="M154.5 540.5v-2.8M154.5 60.5v2.8M193.5 540.5v-2.8M193.5 60.5v2.8M223.5 540.5v-2.8M223.5 60.5v2.8M247.5 540.5v-2.8M247.5 60.5v2.8M268.5 540.5v-2.8M268.5 60.5v2.8M286.5 540.5v-2.8M286.5 60.5v2.8M301.5 540.5v-2.8M301.5 60.5v2.8M316.5 540.5v-5.5M316.5 60.5v5.5M408.5 540.5v-2.8M408.5 60.5v2.8M463.5 540.5v-2.8M463.5 60.5v2.8M501.5 540.5v-2.8M501.5 60.5v2.8M531.5 540.5v-2.8M531.5 60.5v2.8M556.5 540.5v-2.8M556.5 60.5v2.8M576.5 540.5v-2.8M576.5 60.5v2.8M594.5 540.5v-2.8M594.5 60.5v2.8M610.5 540.5v-2.8M610.5 60.5v2.8M624.5 540.5v-5.5M624.5 60.5v5.5M717.5 540.5v-2.8M717.5 60.5v2.8M100.5 60.5h5.5M720.5 60.5h-5.5M100.5 102.5h2.8M720.5 102.5h-2.8M100.5 84.5h2.8M720.5 84.5h-2.8M100.5 73.5h2.8M720.5 73.5h-2.8M100.5 66.5h2.8M720.5 66.5h-2.8M100.5 120.5h5.5M720.5 120.5h-5.5M100.5 162.5h2.8M720.5 162.5h-2.8M100.5 144.5h2.8M720.5 144.5h-2.8M100.5 133.5h2.8M720.5 133.5h-2.8M100.5 126.5h2.8M720.5 126.5h-2.8M100.5 180.5h5.5M720.5 180.5h-5.5M100.5 222.5h2.8M720.5 222.5h-2.8M100.5 204.5h2.8M720.5 204.5h-2.8M100.5 193.5h2.8M720.5 193.5h-2.8M100.5 186.5h2.8M720.5 186.5h-2.8M100.5 240.5h5.5M720.5 240.5h-5.5M100.5 282.5h2.8M720.5 282.5h-2.8M100.5 264.5h2.8M720.5 264.5h-2.8M100.5 253.5h2.8M720.5 253.5h-2.8M100.5 246.5h2.8M720.5 246.5h-2.8M100.5 300.5h5.5M720.5 300.5h-5.5M100.5 342.5h2.8M720.5 342.5h-2.8M100.5 324.5h2.8M720.5 324.5h-2.8M100.5 313.5h2.8M720.5 313.5h-2.8M100.5 306.5h2.8M720.5 306.5h-2.8M100.5 360.5h5.5M720.5 360.5h-5.5M100.5 402.5h2.8M720.5 402.5h-2.8M100.5 384.5h2.8M720.5 384.5h-2.8M100.5 373.5h2.8M720.5 373.5h-2.8M100.5 366.5h2.8M720.5 366.5h-2.8M100.5 420.5h5.5M720.5 420.5h-5.5M100.5 462.5h2.8M720.5 462.5h-2.8M100.5 444.5h2.8M720.5 444.5h-2.8M100.5 433.5h2.8M720.5 433.5h-2.8M100.5 426.5h2.8M720.5 426.5h-2.8M100.5 480.5h5.5M720.5 480.5h-5.5M100.5 522.5h2.8M720.5 522.5h-2.8M100.5 504.5h2.8M720.5 504.5h-2.8M100.5 493.5h2.8M720.5 493.5h-2.8M100.5 486.5h2.8M720.5 486.5h-2.8M100.5 540.5h5.5M720.5 540.5h-5.5" stroke="#000" stroke-width="1" fill="none"/>
<rect x="100.5" y="60.5" width="620" height="480" fill="none" stroke="#000" stroke-width="1"/>
<text x="55" y="66" textLength="19.5" lengthAdjust="spacingAndGlyphs">10</text><text x="75.5" y="58" class="s" textLength="18" lengthAdjust="spacingAndGlyphs">-19</text><text x="55" y="126" textLength="19.5" lengthAdjust="spacingAndGlyphs">10</text><text x="75.5" y="118" class="s" textLength="18" lengthAdjust="spacingAndGlyphs">-20</text><text x="55" y="186" textLength="19.5" lengthAdjust="spacingAndGlyphs">10</text><text x="75.5" y="178" class="s" textLength="18" lengthAdjust="spacingAndGlyphs">-21</text><text x="55" y="246" textLength="19.5" lengthAdjust="spacingAndGlyphs">10</text><text x="75.5" y="238" class="s" textLength="18" lengthAdjust="spacingAndGlyphs">-22</text><text x="55" y="306" textLength="19.5" lengthAdjust="spacingAndGlyphs">10</text><text x="75.5" y="298" class="s" textLength="18" lengthAdjust="spacingAndGlyphs">-23</text><text x="55" y="366" textLength="19.5" lengthAdjust="spacingAndGlyphs">10</text><text x="75.5" y="358" class="s" textLength="18" lengthAdjust="spacingAndGlyphs">-24</text><text x="55" y="426" textLength="19.5" lengthAdjust="spacingAndGlyphs">10</text><text x="75.5" y="418" class="s" textLength="18" lengthAdjust="spacingAndGlyphs">-25</text><text x="55" y="486" textLength="19.5" lengthAdjust="spacingAndGlyphs">10</text><text x="75.5" y="478" class="s" textLength="18" lengthAdjust="spacingAndGlyphs">-26</text><text x="55" y="546" textLength="19.5" lengthAdjust="spacingAndGlyphs">10</text><text x="75.5" y="538" class="s" textLength="18" lengthAdjust="spacingAndGlyphs">-27</text>
<text x="302.8" y="561.5" textLength="19" lengthAdjust="spacingAndGlyphs">10</text><text x="323.5" y="553.5" class="s">2</text><text x="610.8" y="561.5" textLength="19" lengthAdjust="spacingAndGlyphs">10</text><text x="631.5" y="553.5" class="s">3</text>
<text x="348" y="587.5" textLength="126" lengthAdjust="spacingAndGlyphs">Frequency (Hz)</text>
<text transform="translate(40.8 318.5) rotate(-90)" textLength="34" lengthAdjust="spacingAndGlyphs">ASD</text>
</svg>
</body></html>
